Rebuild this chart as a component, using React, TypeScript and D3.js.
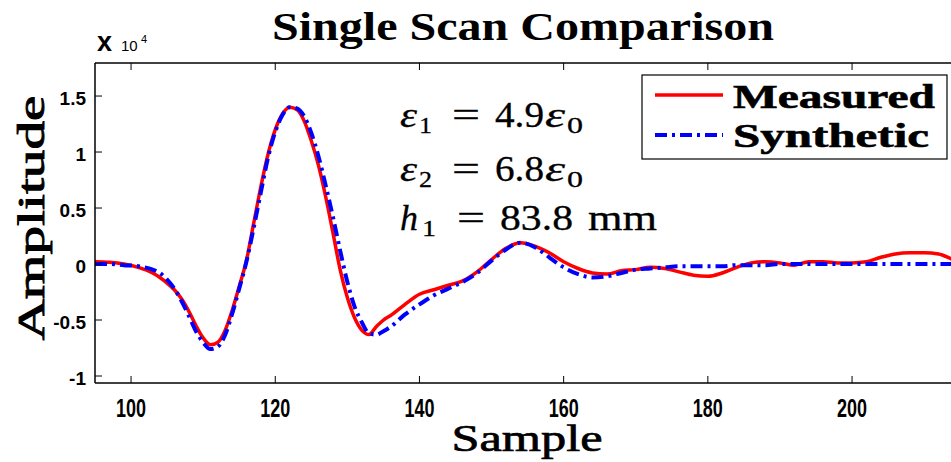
import React from 'react';
import * as d3 from 'd3';

const samples = [95, 97, 99, 101, 103, 104, 105, 106, 107, 108, 109, 110, 111, 112, 113, 114, 115, 116, 117, 118, 119, 120, 121, 122, 123, 124, 125, 126, 127, 128, 129, 130, 131, 132, 133, 134, 135, 136, 138, 140, 142, 144, 146, 148, 150, 152, 154, 156, 158, 160, 162, 164, 166, 168, 170, 172, 174, 176, 178, 180, 182, 184, 186, 188, 190, 192, 194, 196, 198, 200, 202, 204, 206, 208, 210, 212, 214, 216];

const measured = [0.02, 0.015, 0.0, -0.03, -0.08, -0.12, -0.17, -0.23, -0.31, -0.42, -0.55, -0.66, -0.72, -0.70, -0.60, -0.42, -0.20, 0.03, 0.36, 0.69, 0.98, 1.20, 1.34, 1.40, 1.38, 1.28, 1.10, 0.88, 0.60, 0.28, -0.05, -0.30, -0.48, -0.59, -0.63, -0.56, -0.50, -0.46, -0.36, -0.27, -0.23, -0.19, -0.15, -0.07, 0.04, 0.14, 0.19, 0.16, 0.10, 0.02, -0.04, -0.08, -0.09, -0.06, -0.05, -0.03, -0.04, -0.07, -0.10, -0.11, -0.08, -0.03, 0.01, 0.02, 0.01, -0.01, 0.02, 0.02, 0.01, 0.01, 0.02, 0.06, 0.09, 0.10, 0.10, 0.09, 0.04, 0.0];

const synthetic = [0.0, 0.0, -0.01, -0.02, -0.05, -0.08, -0.14, -0.22, -0.33, -0.46, -0.60, -0.70, -0.76, -0.74, -0.64, -0.45, -0.22, 0.02, 0.32, 0.64, 0.95, 1.18, 1.33, 1.40, 1.39, 1.32, 1.17, 0.96, 0.70, 0.42, 0.12, -0.16, -0.38, -0.52, -0.62, -0.63, -0.60, -0.56, -0.45, -0.36, -0.28, -0.22, -0.16, -0.08, 0.03, 0.13, 0.19, 0.15, 0.06, -0.03, -0.09, -0.12, -0.11, -0.08, -0.05, -0.04, -0.03, -0.02, -0.02, -0.02, -0.02, -0.01, -0.01, -0.01, 0.0, 0.0, 0.0, 0.0, 0.0, 0.0, 0.0, 0.0, 0.0, 0.0, 0.0, 0.0, 0.0, 0.0];

const xTicks = [100, 120, 140, 160, 180, 200];
const yTicks = [-1, -0.5, 0, 0.5, 1, 1.5];
const yTickLabels = ['-1', '-0.5', '0', '0.5', '1', '1.5'];
const seriesNames = ['Measured', 'Synthetic'];
const seriesColors = ['#ff0000', '#0000ff'];
const titleText = 'Single Scan Comparison';
const xLabel = 'Sample';
const yLabel = 'Amplitude';

const W = 951;
const H = 462;
const plot = { left: 95, top: 63, right: 960, bottom: 383 };

const serif = "'Liberation Serif', 'DejaVu Serif', serif";
const sans = "'Liberation Sans', Arial, sans-serif";

export default function App() {
  const x = d3.scaleLinear().domain([95, 215]).range([plot.left, plot.left + 120 * 7.21]);
  const y = d3.scaleLinear().domain([-1.0625, 1.795]).range([plot.bottom, plot.top]);

  const line = d3
    .line<number>()
    .x((_, i) => x(samples[i]))
    .y((d) => y(d))
    .curve(d3.curveMonotoneX);

  const tick = 7;

  const mathLine = (
    baseline: number,
    pieces: { t: string; x: number; w: number; italic?: boolean; sub?: boolean }[]
  ) => (
    <g>
      {pieces.map((p, i) => (
        <text
          key={i}
          x={p.x}
          y={p.sub ? baseline + 6 : baseline}
          fontFamily={serif}
          fontStyle={p.italic ? 'italic' : 'normal'}
          fontSize={p.sub ? 24 : 35}
          textLength={p.w}
          lengthAdjust="spacingAndGlyphs"
          stroke="#000"
          strokeWidth={0.3}
        >
          {p.t}
        </text>
      ))}
    </g>
  );

  return (
    <svg
      width={W}
      height={H}
      style={{ position: 'absolute', left: 0, top: 0, background: '#fff' }}
      xmlns="http://www.w3.org/2000/svg"
    >
      <defs>
        <clipPath id="plotClip">
          <rect x={plot.left} y={plot.top} width={plot.right - plot.left} height={plot.bottom - plot.top} />
        </clipPath>
      </defs>
      <rect x={0} y={0} width={W} height={H} fill="#fff" />

      {/* Title */}
      <text
        x={523}
        y={40}
        textAnchor="middle"
        fontFamily={serif}
        fontWeight="bold"
        fontSize={39}
        textLength={502}
        lengthAdjust="spacingAndGlyphs"
      >
        {titleText}
      </text>

      {/* exponent */}
      <text x={97} y={51} fontFamily={sans} fontWeight="bold" fontSize={27}>x</text>
      <text x={121} y={51} fontFamily={sans} fontSize={15}>10</text>
      <text x={141} y={43} fontFamily={sans} fontSize={11}>4</text>

      {/* lines */}
      <g clipPath="url(#plotClip)">
        <path d={line(measured) || ''} fill="none" stroke={seriesColors[0]} strokeWidth={3.5} strokeLinejoin="round" />
        <path
          d={line(synthetic) || ''}
          fill="none"
          stroke={seriesColors[1]}
          strokeWidth={4}
          strokeDasharray="12 5 3 5"
        />
      </g>

      {/* axes box */}
      <g stroke="#000" strokeWidth={1.5} fill="none">
        <line x1={plot.left} y1={plot.top} x2={plot.left} y2={plot.bottom} />
        <line x1={plot.left} y1={plot.bottom} x2={plot.right} y2={plot.bottom} />
        <line x1={plot.left} y1={plot.top} x2={plot.right} y2={plot.top} />
      </g>
      <g stroke="#000" strokeWidth={1}>
        {xTicks.map((t) => (
          <g key={t}>
            <line x1={x(t)} x2={x(t)} y1={plot.bottom} y2={plot.bottom - tick} />
            <line x1={x(t)} x2={x(t)} y1={plot.top} y2={plot.top + tick} />
          </g>
        ))}
        {yTicks.map((t) => (
          <line key={t} x1={plot.left} x2={plot.left + tick} y1={y(t)} y2={y(t)} />
        ))}
      </g>
      {xTicks.map((t) => (
        <text
          key={t}
          x={x(t)}
          y={417}
          textAnchor="middle"
          fontFamily={sans}
          fontWeight="bold"
          fontSize={25}
          textLength={String(t).length * 10}
          lengthAdjust="spacingAndGlyphs"
        >
          {t}
        </text>
      ))}
      {yTicks.map((t, i) => (
        <text key={t} x={86} y={y(t) + 9} textAnchor="end" fontFamily={sans} fontWeight="bold" fontSize={19}>
          {yTickLabels[i]}
        </text>
      ))}

      {/* axis labels */}
      <text
        x={527}
        y={451}
        textAnchor="middle"
        fontFamily={serif}
        fontSize={38}
        textLength={151}
        lengthAdjust="spacingAndGlyphs"
        stroke="#000"
        strokeWidth={0.7}
      >
        {xLabel}
      </text>
      <text
        transform="translate(44,218) rotate(-90)"
        textAnchor="middle"
        fontFamily={serif}
        fontSize={38}
        textLength={245}
        lengthAdjust="spacingAndGlyphs"
        stroke="#000"
        strokeWidth={0.9}
      >
        {yLabel}
      </text>

      {/* annotation */}
      {mathLine(127, [
        { t: 'ε', x: 400, w: 17, italic: true },
        { t: '1', x: 419, w: 13, sub: true },
        { t: '=', x: 452, w: 28 },
        { t: '4.9', x: 495, w: 49 },
        { t: 'ε', x: 545, w: 20, italic: true },
        { t: '0', x: 567, w: 16, sub: true },
      ])}
      {mathLine(181, [
        { t: 'ε', x: 400, w: 17, italic: true },
        { t: '2', x: 419, w: 13, sub: true },
        { t: '=', x: 452, w: 28 },
        { t: '6.8', x: 495, w: 49 },
        { t: 'ε', x: 545, w: 20, italic: true },
        { t: '0', x: 567, w: 16, sub: true },
      ])}
      {mathLine(230, [
        { t: 'h', x: 400, w: 18, italic: true },
        { t: '1', x: 422, w: 14, sub: true },
        { t: '=', x: 457, w: 28 },
        { t: '83.8', x: 500, w: 73 },
        { t: 'mm', x: 588, w: 69 },
      ])}

      {/* legend */}
      <g>
        <rect x={642} y={75} width={305} height={84} fill="#fff" stroke="#000" strokeWidth={1.2} />
        {seriesNames.map((name, i) => {
          const ly = i === 0 ? 95 : 135;
          const ty = i === 0 ? 108 : 147;
          return (
            <g key={name}>
              <line
                x1={655}
                x2={723}
                y1={ly}
                y2={ly}
                stroke={seriesColors[i]}
                strokeWidth={i === 0 ? 3.5 : 4}
                strokeDasharray={i === 0 ? undefined : '12 5 3 5'}
              />
              <text
                x={733}
                y={ty}
                fontFamily={serif}
                fontWeight="bold"
                fontSize={34}
                textLength={i === 0 ? 202 : 196}
                lengthAdjust="spacingAndGlyphs"
                stroke="#000"
                strokeWidth={0.6}
              >
                {name}
              </text>
            </g>
          );
        })}
      </g>
    </svg>
  );
}
